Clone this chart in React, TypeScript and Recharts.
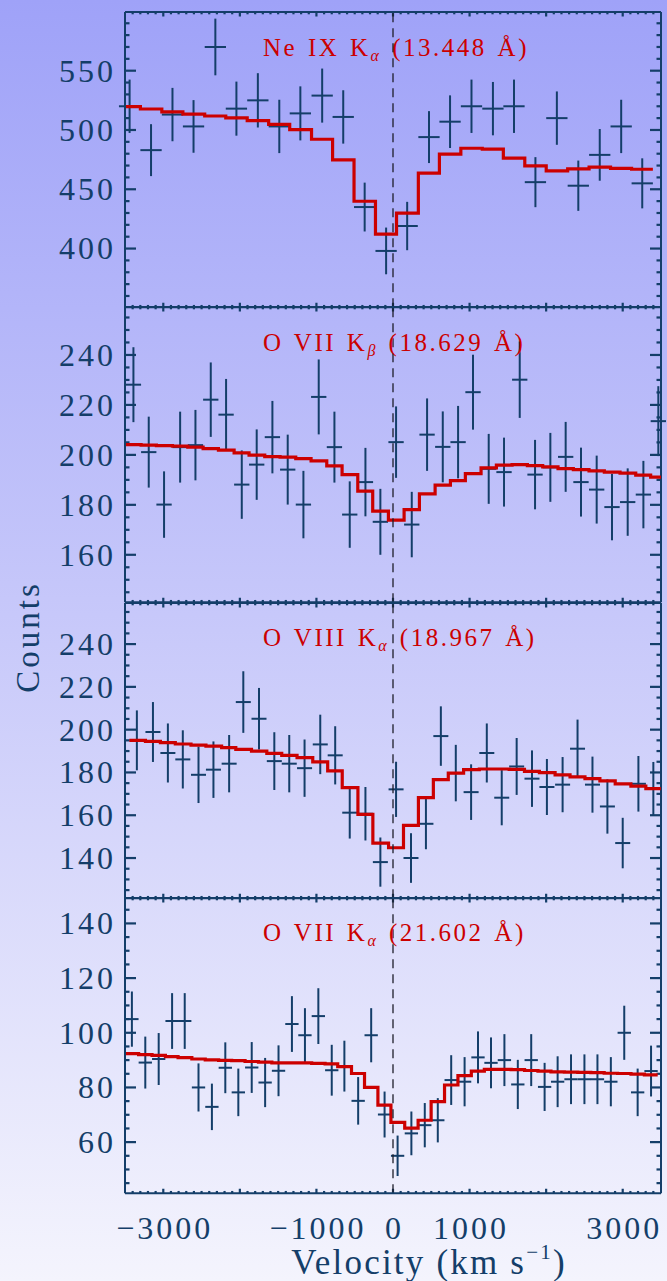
import React from 'react';
import { ComposedChart, Scatter, Line, XAxis, YAxis, ErrorBar, ReferenceLine } from 'recharts';

// ---- Ne IX K-alpha (13.448 A) ----
const neixVel = [-3440, -3160, -2880, -2605, -2320, -2045, -1765, -1485, -1210, -925, -650, -370, -90, 185, 470, 745, 1025, 1305, 1580, 1860, 2140, 2420, 2700, 2980, 3255];
const neixCounts = [520, 483, 513, 503, 570, 518, 525, 503, 514, 529, 511, 435, 398, 419, 494, 507, 520, 518, 520, 456, 510, 453, 479, 503, 455];
const neixErr = [22.5, 21.9, 22.5, 22.2, 23.9, 22.8, 22.9, 22.5, 22.8, 22.8, 22.5, 20.6, 19.7, 20.4, 21.9, 22.2, 22.5, 22.5, 22.5, 21.1, 22.5, 21.2, 21.8, 22.5, 21.1];
const neixModel = [519.7, 517.7, 515.2, 513.3, 511.8, 510.2, 507.9, 504.8, 500.3, 492.2, 474.8, 439.9, 412.2, 429.8, 463.6, 479.6, 484.6, 483.8, 476.2, 469.7, 465.5, 467.2, 468.6, 467.7, 466.9];

// ---- O VII K-beta (18.629 A) ----
const o7bVel = [-3390, -3190, -2990, -2780, -2580, -2380, -2180, -1975, -1780, -1575, -1375, -1170, -970, -765, -565, -360, -165, 40, 245, 445, 650, 850, 1045, 1250, 1450, 1655, 1855, 2055, 2255, 2455, 2660, 2860, 3065, 3270, 3465];
const o7bCounts = [228.1, 201.1, 180.1, 203.1, 203.9, 222.1, 216.1, 188.1, 196.1, 207.1, 194.1, 180.1, 223.2, 203.1, 176.1, 189.1, 173.2, 205.1, 172.1, 208.1, 203.2, 205.1, 225.1, 194.4, 193.1, 230.1, 192.1, 195.0, 199.2, 189.1, 186.1, 179.1, 181.1, 184.1, 213.5];
const o7bErr = [15.0, 14.2, 13.3, 14.2, 14.1, 14.9, 14.3, 13.7, 14.1, 14.5, 14.0, 13.5, 15.0, 14.2, 13.3, 13.7, 13.2, 14.3, 13.1, 14.5, 14.2, 14.5, 15.0, 14.0, 13.8, 15.3, 13.9, 13.8, 14.0, 13.8, 13.6, 13.3, 13.5, 13.5, 14.0];
const o7bModel = [204.1, 203.9, 203.7, 203.5, 203.1, 202.5, 201.9, 200.8, 199.9, 199.3, 199.1, 198.5, 197.6, 195.6, 192.1, 185.5, 177.5, 173.9, 178.1, 184.4, 187.9, 189.7, 192.5, 194.8, 195.9, 196.1, 195.7, 195.2, 194.5, 194.1, 193.6, 193.1, 192.7, 191.9, 191.1];

// ---- O VIII K-alpha (18.967 A) ----
const o8Vel = [-3345, -3135, -2940, -2745, -2540, -2345, -2140, -1955, -1750, -1550, -1355, -1155, -950, -755, -565, -360, -165, 40, 235, 430, 625, 820, 1020, 1225, 1420, 1615, 1815, 2010, 2215, 2410, 2605, 2800, 3000, 3205, 3400];
const o8Counts = [195.0, 198.9, 189.1, 186.1, 178.9, 181.3, 184.1, 212.9, 205.1, 185.3, 184.1, 182.0, 193.1, 188.0, 161.2, 160.7, 138.1, 172.1, 140.0, 156.0, 197.0, 179.7, 170.8, 189.1, 168.2, 182.8, 177.1, 173.2, 174.3, 191.1, 174.3, 164.1, 147.0, 174.7, 172.4];
const o8Err = [14.0, 14.0, 13.8, 13.6, 13.2, 13.2, 13.4, 14.4, 14.4, 13.5, 13.4, 13.4, 13.9, 13.6, 12.1, 12.5, 11.5, 12.9, 11.6, 11.9, 13.9, 13.2, 13.0, 13.8, 12.9, 13.3, 13.2, 13.1, 12.9, 13.6, 13.1, 12.7, 11.8, 13.0, 12.5];
const o8Model = [195.0, 194.5, 193.9, 193.3, 192.8, 192.3, 191.6, 190.8, 190.0, 188.9, 188.0, 186.9, 184.9, 180.7, 172.9, 160.4, 147.0, 144.8, 155.3, 168.2, 176.6, 179.7, 181.3, 181.6, 181.6, 181.4, 180.5, 179.9, 178.9, 177.9, 177.1, 176.1, 174.7, 173.6, 172.4];

// ---- O VII K-alpha (21.602 A) ----
const o7aVel = [-3410, -3235, -3060, -2885, -2720, -2540, -2365, -2190, -2020, -1845, -1670, -1495, -1320, -1150, -975, -800, -635, -455, -285, -110, 60, 240, 415, 585, 760, 935, 1110, 1280, 1455, 1630, 1805, 1980, 2150, 2325, 2500, 2670, 2845, 3020, 3195, 3370];
const o7aCounts = [105.0, 89.1, 90.4, 104.3, 104.3, 80.0, 72.9, 87.2, 78.2, 87.3, 81.8, 86.1, 103.2, 99.1, 106.1, 86.3, 87.8, 75.1, 99.1, 70.1, 55.0, 63.2, 66.2, 68.0, 82.7, 82.1, 91.0, 89.0, 90.0, 81.1, 90.0, 80.2, 82.1, 83.0, 83.0, 83.0, 82.1, 100.0, 78.2, 86.0];
const o7aErr = [10.1, 9.5, 9.5, 10.2, 10.2, 8.8, 8.5, 9.3, 8.7, 9.3, 9.0, 9.3, 10.2, 9.9, 10.2, 9.3, 9.3, 8.7, 9.9, 8.4, 7.4, 8.0, 8.1, 8.1, 9.1, 9.0, 9.5, 9.3, 9.5, 9.0, 9.5, 8.8, 9.3, 9.1, 9.1, 9.1, 9.0, 9.9, 8.7, 9.3];
const o7aModel = [92.4, 92.0, 91.7, 91.3, 90.9, 90.4, 90.1, 89.9, 89.8, 89.5, 89.3, 89.0, 89.0, 89.0, 88.8, 88.6, 87.6, 85.1, 80.0, 73.5, 67.2, 65.1, 68.0, 74.8, 80.9, 84.3, 86.0, 86.6, 86.6, 86.5, 86.2, 86.0, 85.7, 85.6, 85.5, 85.4, 85.2, 85.1, 84.9, 84.6];

// Half widths of the velocity bins (km/s)
const neixHalfBin = 139;
const o7bHalfBin = 100;
const o8HalfBin = 98;
const o7aHalfBin = 87;

// Tick labels
const velocityLabels = [-3000, -1000, 0, 1000, 3000];
const velocityMajor = [-3000, -2000, -1000, 0, 1000, 2000, 3000];
const neixMajor = [400, 450, 500, 550];
const o7bMajor = [160, 180, 200, 220, 240];
const o8Major = [140, 160, 180, 200, 220, 240];
const o7aMajor = [60, 80, 100, 120, 140];

const NAVY = '#143e69';
const RED = '#cc0000';
const FONT = '"Liberation Serif", "Times New Roman", serif';

const W = 667;
const H = 1281;
const PLOT_LEFT = 125;
const PLOT_RIGHT_GAP = 6;
const PLOT_W = W - PLOT_LEFT - PLOT_RIGHT_GAP;
const PANEL_H = 295.25;
const PAD = 8;
const X_DOMAIN: [number, number] = [-3500, 3500];
// axes take (almost) no room, so labels hang straight off the plot frame
const THIN = 0.001;

const ticksBetween = (from: number, to: number, step: number) => {
  const out: number[] = [];
  for (let t = from; t <= to + 1e-6; t += step) out.push(+t.toFixed(3));
  return out;
};

// every 100 km/s, majors included
const velocityTicks = ticksBetween(-3400, 3400, 100);

type PanelDef = {
  ion: string;
  sub: string;
  wave: string;
  top: number;
  vel: number[];
  counts: number[];
  err: number[];
  model: number[];
  halfBin: number;
  domain: [number, number];
  major: number[];
  minor: number[];
  last?: boolean;
};

const panels: PanelDef[] = [
  { ion: 'Ne IX', sub: 'α', wave: '13.448', top: 12, vel: neixVel, counts: neixCounts, err: neixErr, model: neixModel, halfBin: neixHalfBin, domain: [350.5, 599.5], major: neixMajor, minor: ticksBetween(360, 590, 10) },
  { ion: 'O VII', sub: 'β', wave: '18.629', top: 12 + PANEL_H, vel: o7bVel, counts: o7bCounts, err: o7bErr, model: o7bModel, halfBin: o7bHalfBin, domain: [141, 259.2], major: o7bMajor, minor: ticksBetween(145, 255, 5) },
  { ion: 'O VIII', sub: 'α', wave: '18.967', top: 12 + 2 * PANEL_H, vel: o8Vel, counts: o8Counts, err: o8Err, model: o8Model, halfBin: o8HalfBin, domain: [121.2, 259.2], major: o8Major, minor: ticksBetween(125, 255, 5) },
  { ion: 'O VII', sub: 'α', wave: '21.602', top: 12 + 3 * PANEL_H, vel: o7aVel, counts: o7aCounts, err: o7aErr, model: o7aModel, halfBin: o7aHalfBin, domain: [41.3, 149.3], major: o7aMajor, minor: ticksBetween(45, 145, 5), last: true },
];

const NoMark = () => <g />;

// axis labels
const makeXLabel = (labels: number[]) => (props: any) => {
  const { x, y, payload } = props;
  const v = payload.value as number;
  const txt = v < 0 ? '\u2212' + Math.abs(v) : String(v);
  return (
    <text x={x} y={y} dx={1.5} textAnchor="middle" fill={NAVY} fontFamily={FONT} fontSize={32} letterSpacing={3}>
      {labels.includes(v) ? txt : ''}
    </text>
  );
};

const YLabel = (props: any) => {
  const { x, y, payload } = props;
  return (
    <text x={x} y={y} dy="0.34em" textAnchor="end" fill={NAVY} fontFamily={FONT} fontSize={32} letterSpacing={3}>
      {payload.value}
    </text>
  );
};

const frame = { stroke: NAVY, strokeWidth: 2 };

function Panel({ p }: { p: PanelDef }) {
  const points = p.vel.map((v, i) => ({ v, c: p.counts[i], err: p.err[i], xe: p.halfBin }));
  // histogram model: each bin's value held from its left edge, closed at the last right edge
  const steps = p.vel.map((v, i) => ({ v: v - p.halfBin, m: p.model[i] }));
  steps.push({ v: p.vel[p.vel.length - 1] + p.halfBin, m: p.model[p.model.length - 1] });

  // inward tick marks standing on the frame; lengths given in pixels, converted to data units
  const [lo, hi] = p.domain;
  const [xl, xr] = X_DOMAIN;
  const countsPerPx = (hi - lo) / PANEL_H;
  const velPerPx = (xr - xl) / PLOT_W;
  const xLen = (v: number) => (velocityMajor.includes(v) ? 4.5 : 2.3) * countsPerPx;
  const yLen = (c: number) => (p.major.includes(c) ? 11 : 4.5) * velPerPx;
  const tickSegments = [
    ...velocityTicks.map((v) => [{ x: v, y: lo }, { x: v, y: lo + xLen(v) }]),
    ...velocityTicks.map((v) => [{ x: v, y: hi }, { x: v, y: hi - xLen(v) }]),
    ...p.minor.map((c) => [{ x: xl, y: c }, { x: xl + yLen(c), y: c }]),
    ...p.minor.map((c) => [{ x: xr, y: c }, { x: xr - yLen(c), y: c }]),
  ];

  const bottomPad = p.last ? 70 : PAD;

  return (
    <div style={{ position: 'absolute', left: 0, top: p.top - PAD }}>
      <ComposedChart
        width={W}
        height={PANEL_H + PAD + bottomPad}
        margin={{ top: PAD, right: PLOT_RIGHT_GAP, bottom: bottomPad, left: PLOT_LEFT }}
      >
        <XAxis xAxisId="x" type="number" dataKey="v" domain={X_DOMAIN} allowDataOverflow height={THIN}
          ticks={p.last ? velocityLabels : []} interval={0} tickSize={0} tickMargin={46}
          tick={p.last ? makeXLabel(velocityLabels) : NoMark} tickLine={false} axisLine={frame} />
        <YAxis yAxisId="y" type="number" domain={p.domain} allowDataOverflow width={THIN}
          ticks={p.major} interval={0} tickSize={0} tickMargin={9} tick={YLabel} tickLine={false} axisLine={frame} />

        {/* top and right sides of the frame */}
        <ReferenceLine xAxisId="x" yAxisId="y" y={hi} stroke={NAVY} strokeWidth={2} />
        <ReferenceLine xAxisId="x" yAxisId="y" x={xr} stroke={NAVY} strokeWidth={2} />

        {tickSegments.map((seg, i) => (
          <ReferenceLine key={'t' + i} xAxisId="x" yAxisId="y" segment={seg} ifOverflow="visible"
            stroke={NAVY} strokeWidth={2.2} />
        ))}

        <Scatter xAxisId="x" yAxisId="y" data={points} dataKey="c" shape={NoMark} isAnimationActive={false}>
          <ErrorBar dataKey="err" direction="y" width={0} stroke={NAVY} strokeWidth={2} isAnimationActive={false} />
          <ErrorBar dataKey="xe" direction="x" width={0} stroke={NAVY} strokeWidth={2} isAnimationActive={false} />
        </Scatter>
        <Line xAxisId="x" yAxisId="y" data={steps} dataKey="m" type="stepAfter" stroke={RED} strokeWidth={3.2}
          dot={false} activeDot={false} isAnimationActive={false} />
        <ReferenceLine xAxisId="x" yAxisId="y" x={0} stroke="#1e1e2a" strokeWidth={1.3} strokeDasharray="9 6" />
      </ComposedChart>
    </div>
  );
}

export default function App() {
  return (
    <div
      style={{
        position: 'absolute',
        left: 0,
        top: 0,
        width: W,
        height: H,
        overflow: 'hidden',
        background: 'linear-gradient(to bottom, #9fa2f8 0%, #c7c8fa 48%, #f4f4fd 100%)',
      }}
    >
      {panels.map((p, i) => (
        <Panel key={i} p={p} />
      ))}
      <svg width={W} height={H} style={{ position: 'absolute', left: 0, top: 0, pointerEvents: 'none' }}>
        {panels.map((p, i) => (
          <text key={i} x={263} y={p.top + 43.5} fill={RED} fontFamily={FONT} fontSize={25} letterSpacing={2.5} wordSpacing={2}>
            {p.ion} K<tspan fontSize={16} fontStyle="italic" dy={5}>{p.sub}</tspan><tspan dy={-5}> ({p.wave} Å)</tspan>
          </text>
        ))}
        <text transform="translate(39,637) rotate(-90)" textAnchor="middle" fill={NAVY} fontFamily={FONT} fontSize={33} letterSpacing={3}>
          Counts
        </text>
        <text x={429} y={1274} textAnchor="middle" fill={NAVY} fontFamily={FONT} fontSize={35} letterSpacing={2.2}>
          Velocity (km s<tspan fontSize={21} dy={-15}>−1</tspan><tspan dy={15}>)</tspan>
        </text>
      </svg>
    </div>
  );
}
